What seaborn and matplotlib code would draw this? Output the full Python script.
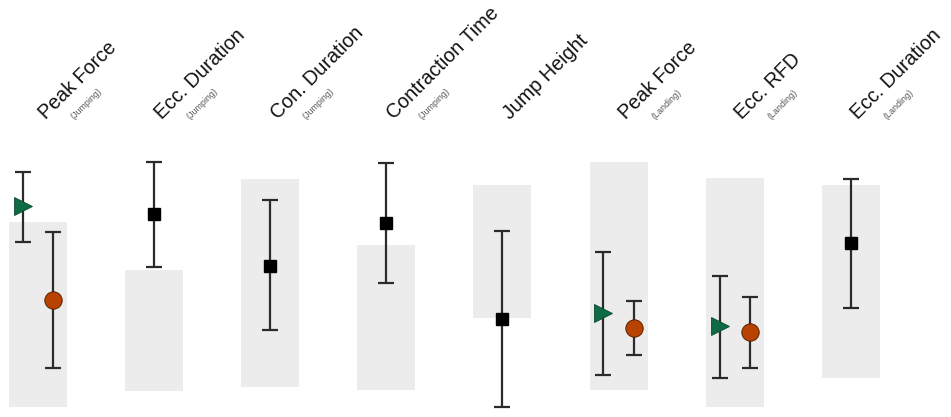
import numpy as np
import pandas as pd
import matplotlib
matplotlib.use('Agg')
import matplotlib.pyplot as plt
import seaborn as sns

# Metric names and their phase label
metrics = ['Peak Force', 'Ecc. Duration', 'Con. Duration', 'Contraction Time',
           'Jump Height', 'Peak Force', 'Ecc. RFD', 'Ecc. Duration']
phases = ['(Jumping)', '(Jumping)', '(Jumping)', '(Jumping)',
          '', '(Landing)', '(Landing)', '(Landing)']

# Grey reference band (low / high)
band_low = [3.6, 9.4, 10.8, 9.7, 35.7, 9.7, 3.6, 14.1]
band_high = [70.4, 53.1, 85.9, 62.1, 83.8, 92.1, 86.3, 83.8]

# Single measurement (black square) - NaN where not shown
square_mid = [np.nan, 73.3, 54.5, 70.0, 35.4, np.nan, np.nan, 62.8]
square_lo = [np.nan, 54.2, 31.4, 48.4, 3.6, np.nan, np.nan, 39.4]
square_hi = [np.nan, 92.1, 78.3, 91.7, 67.1, np.nan, np.nan, 85.9]

# Left / right limb (green triangle, orange circle)
tri_mid = [76.2, np.nan, np.nan, np.nan, np.nan, 37.5, 32.9, np.nan]
tri_lo = [63.2, np.nan, np.nan, np.nan, np.nan, 15.2, 14.1, np.nan]
tri_hi = [88.4, np.nan, np.nan, np.nan, np.nan, 59.6, 50.9, np.nan]

circ_mid = [42.2, np.nan, np.nan, np.nan, np.nan, 32.1, 30.7, np.nan]
circ_lo = [17.7, np.nan, np.nan, np.nan, np.nan, 22.4, 17.7, np.nan]
circ_hi = [66.8, np.nan, np.nan, np.nan, np.nan, 41.9, 43.3, np.nan]

df = pd.DataFrame({
    'metric': metrics, 'phase': phases,
    'band_low': band_low, 'band_high': band_high,
    'sq': square_mid, 'sq_lo': square_lo, 'sq_hi': square_hi,
    'tri': tri_mid, 'tri_lo': tri_lo, 'tri_hi': tri_hi,
    'circ': circ_mid, 'circ_lo': circ_lo, 'circ_hi': circ_hi,
})
x = np.arange(len(df))

sns.set_style('white')
plt.rcParams['font.family'] = ['Liberation Sans', 'DejaVu Sans']

fig = plt.figure(figsize=(9.51, 4.17), dpi=100)
ax = fig.add_axes([0, 0, 1, 277 / 417])

# Grey bands
ax.bar(x, df['band_high'] - df['band_low'], bottom=df['band_low'],
       width=0.5, color='#ececec', edgecolor='none', zorder=1)

err_kw = dict(fmt='none', ecolor='#2b2b2b', elinewidth=1.6, capsize=6,
              capthick=1.6, zorder=2)

# Black squares
ax.errorbar(x, df['sq'], yerr=[df['sq'] - df['sq_lo'], df['sq_hi'] - df['sq']], **err_kw)
ax.plot(x, df['sq'], 's', color='black', markersize=8.5, linestyle='none', zorder=3)

# Green triangles (left offset)
xt = x - 0.13
ax.errorbar(xt, df['tri'], yerr=[df['tri'] - df['tri_lo'], df['tri_hi'] - df['tri']], **err_kw)
ax.plot(xt, df['tri'], '>', color='#0e6b45', markeredgecolor='#0a4a30',
        markeredgewidth=0.6, markersize=13, linestyle='none', zorder=3)

# Orange circles (right offset)
xc = x + 0.13
ax.errorbar(xc, df['circ'], yerr=[df['circ'] - df['circ_lo'], df['circ_hi'] - df['circ']], **err_kw)
ax.plot(xc, df['circ'], 'o', color='#b84300', markeredgecolor='#5a2000',
        markeredgewidth=0.7, markersize=12.5, linestyle='none', zorder=3)

# Rotated column titles
for i, row in df.iterrows():
    ax.annotate(row['metric'], xy=(i, 1), xycoords=('data', 'axes fraction'),
                xytext=(5.5, 14.5), textcoords='offset points', rotation=45,
                rotation_mode='anchor', ha='left', va='baseline',
                fontsize=14.2, color='#111111', annotation_clip=False)
    if row['phase']:
        ax.annotate(row['phase'], xy=(i, 1), xycoords=('data', 'axes fraction'),
                    xytext=(26, 14.5), textcoords='offset points', rotation=45,
                    rotation_mode='anchor', ha='left', va='baseline',
                    fontsize=6.4, color='#555555', annotation_clip=False)

ax.set_xlim(-0.327, 7.863)
ax.set_ylim(0, 100)
ax.set_xticks([])
ax.set_yticks([])
sns.despine(ax=ax, left=True, bottom=True)

fig.savefig('out.png', dpi=100)
